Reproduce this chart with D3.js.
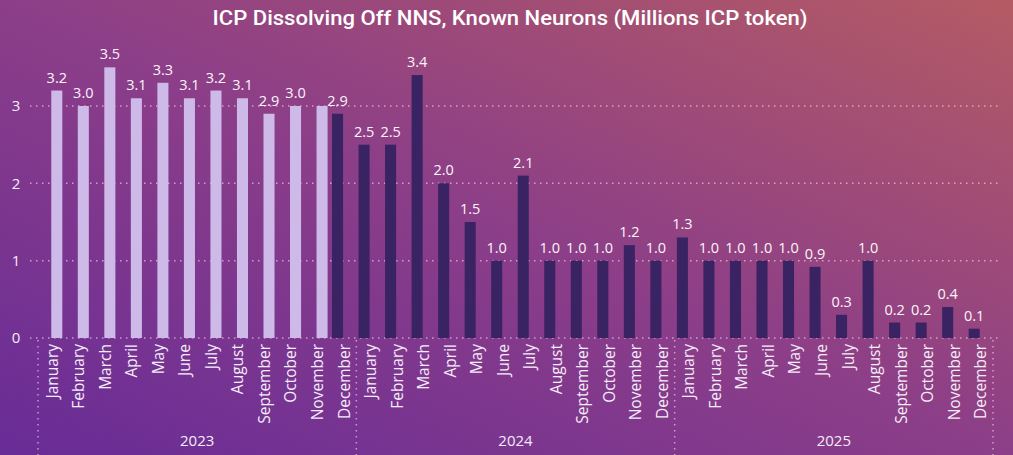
<!DOCTYPE html>
<html>
<head>
<meta charset="utf-8">
<script src="https://cdn.jsdelivr.net/npm/d3@7"></script>
<style>
  html, body { margin: 0; padding: 0; overflow: hidden; }
  svg { display: block; }
</style>
</head>
<body>
<script>
const width = 1013;
const height = 455;

const years = ['2023', '2024', '2025'];
const months = ['January', 'February', 'March', 'April', 'May', 'June', 'July',
  'August', 'September', 'October', 'November', 'December'];

// light series: Jan-Nov 2023, dark series: Dec 2023 onward
const lightValues = [3.2, 3.0, 3.5, 3.1, 3.3, 3.1, 3.2, 3.1, 2.9, 3.0, 3.0, null,
  null, null, null, null, null, null, null, null, null, null, null, null,
  null, null, null, null, null, null, null, null, null, null, null, null];
const darkValues = [null, null, null, null, null, null, null, null, null, null, null, 2.9,
  2.5, 2.5, 3.4, 2.0, 1.5, 1.0, 2.1, 1.0, 1.0, 1.0, 1.2, 1.0,
  1.3, 1.0, 1.0, 1.0, 1.0, 0.92, 0.3, 1.0, 0.2, 0.2, 0.4, 0.12];
// labels Power BI hid because they collide
const hiddenLabels = ['light-10'];

const yTicks = [0, 1, 2, 3];

const categories = [];
years.forEach(y => months.forEach(m => categories.push(y + '-' + m)));

const svg = d3.select('body').append('svg')
  .attr('width', width)
  .attr('height', height);

// background gradient
const grad = svg.append('defs').append('linearGradient')
  .attr('id', 'bg')
  .attr('x1', 0).attr('y1', 1).attr('x2', 1).attr('y2', 0);
grad.append('stop').attr('offset', '0%').attr('stop-color', '#682c97');
grad.append('stop').attr('offset', '50%').attr('stop-color', '#8c3e88');
grad.append('stop').attr('offset', '100%').attr('stop-color', '#b45b64');

svg.append('rect').attr('width', width).attr('height', height).attr('fill', 'url(#bg)');

const x0 = d3.scaleBand().domain(categories).range([38, 993]).padding(0);
const x1 = d3.scaleBand().domain(['dark', 'light']).range([0, x0.bandwidth()])
  .paddingInner(0).paddingOuter(0.2);
const y = d3.scaleLinear().domain([0, 3]).range([338, 106]);

// title
svg.append('text')
  .attr('x', 510)
  .attr('y', 25)
  .attr('text-anchor', 'middle')
  .attr('fill', '#ffffff')
  .style('font-family', 'Roboto, sans-serif')
  .style('font-weight', 500)
  .style('font-size', '21px')
  .attr('textLength', 595)
  .attr('lengthAdjust', 'spacingAndGlyphs')
  .text('ICP Dissolving Off NNS, Known Neurons (Millions ICP token)');

// gridlines
svg.append('g').selectAll('line')
  .data(yTicks)
  .join('line')
  .attr('x1', 30).attr('x2', 1000)
  .attr('y1', d => y(d)).attr('y2', d => y(d))
  .attr('stroke', '#f3c6e6')
  .attr('stroke-opacity', 0.7)
  .attr('stroke-width', 1.5)
  .attr('stroke-dasharray', '1.5,4.5');

// y tick labels
svg.append('g').selectAll('text')
  .data(yTicks)
  .join('text')
  .attr('x', 16)
  .attr('y', d => y(d))
  .attr('dy', '0.35em')
  .attr('text-anchor', 'middle')
  .attr('fill', '#f4ecf8')
  .style('font-family', '"Open Sans", sans-serif')
  .style('font-size', '15px')
  .text(d => d);

// bars
const series = [
  {key: 'light', values: lightValues, color: '#cdbae8'},
  {key: 'dark', values: darkValues, color: '#3a2362'}
];

series.forEach(s => {
  const pts = categories.map((c, i) => ({c, i, v: s.values[i]})).filter(d => d.v != null);
  const g = svg.append('g');
  g.selectAll('rect')
    .data(pts)
    .join('rect')
    .attr('x', d => x0(d.c) + x1(s.key))
    .attr('width', x1.bandwidth())
    .attr('y', d => y(d.v))
    .attr('height', d => y(0) - y(d.v))
    .attr('fill', s.color);
  g.selectAll('text')
    .data(pts.filter(d => !hiddenLabels.includes(s.key + '-' + d.i)))
    .join('text')
    .attr('x', d => x0(d.c) + x1(s.key) + x1.bandwidth() / 2)
    .attr('y', d => y(d.v) - 8)
    .attr('text-anchor', 'middle')
    .attr('fill', '#fbf4fb')
    .style('font-family', '"Open Sans", sans-serif')
    .style('font-size', '14.5px')
    .text(d => d3.format('.1f')(d.v));
});

// month labels
svg.append('g').selectAll('text')
  .data(categories)
  .join('text')
  .attr('transform', d => `translate(${x0(d) + x0.bandwidth() / 2 + 1},344) rotate(-90)`)
  .attr('dy', '0.35em')
  .attr('text-anchor', 'end')
  .attr('fill', '#f4ecf8')
  .style('font-family', '"Open Sans", sans-serif')
  .style('font-size', '15.5px')
  .text(d => d.split('-')[1]);

// year separators and labels
const yearEdges = years.map(yr => x0(yr + '-January'));
yearEdges.push(x0.range()[1]);
svg.append('g').selectAll('line')
  .data(yearEdges)
  .join('line')
  .attr('x1', d => d).attr('x2', d => d)
  .attr('y1', 340).attr('y2', height)
  .attr('stroke', '#f3c6e6')
  .attr('stroke-opacity', 0.7)
  .attr('stroke-width', 1.5)
  .attr('stroke-dasharray', '1.5,4.5');

svg.append('g').selectAll('text')
  .data(years)
  .join('text')
  .attr('x', (d, i) => (yearEdges[i] + yearEdges[i + 1]) / 2)
  .attr('y', 446)
  .attr('text-anchor', 'middle')
  .attr('fill', '#f4ecf8')
  .style('font-family', '"Open Sans", sans-serif')
  .style('font-size', '15px')
  .text(d => d);
</script>
</body>
</html>
